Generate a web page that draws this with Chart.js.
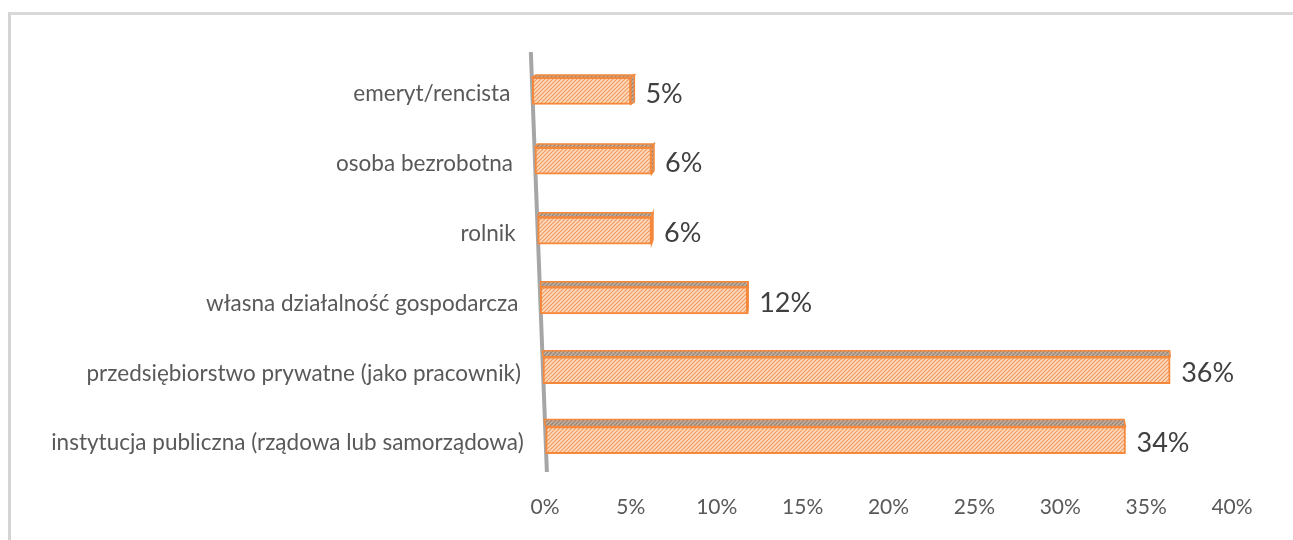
<!DOCTYPE html>
<html>
<head>
<meta charset="utf-8">
<script src="https://cdn.jsdelivr.net/npm/chart.js@4/dist/chart.umd.min.js"></script>
<style>
  html, body { margin: 0; padding: 0; background: #fff; }
  #wrap { position: relative; width: 1293px; height: 540px; overflow: hidden; }
  #frame { position: absolute; left: 8px; top: 12px; right: -5px; bottom: -5px;
           border-top: 3px solid #d9d9d9; border-left: 3px solid #d4d4d4; }
  #chart { position: absolute; left: 0; top: 0; }
</style>
</head>
<body>
<div id="wrap">
  <div id="frame"></div>
  <canvas id="chart" width="1293" height="540"></canvas>
</div>
<script>
// categories, top to bottom as in the picture
const categories = [
  'emeryt/rencista',
  'osoba bezrobotna',
  'rolnik',
  'własna działalność gospodarcza',
  'przedsiębiorstwo prywatne (jako pracownik)',
  'instytucja publiczna (rządowa lub samorządowa)'
];
// share of respondents, %
const shares = [5.0, 6.2, 6.2, 11.8, 36.4, 33.8];
const xTicksMax = 40;
const xTicksStep = 5;

const FONT = 'Lato';
const textGray = '#595959';

function hatch(bg, line) {
  const c = document.createElement('canvas');
  c.width = 4; c.height = 4;
  const g = c.getContext('2d');
  g.fillStyle = bg;
  g.fillRect(0, 0, 4, 4);
  g.strokeStyle = line;
  g.lineWidth = 1.2;
  g.beginPath();
  g.moveTo(-1, 5); g.lineTo(5, -1);
  g.moveTo(-1, 1); g.lineTo(1, -1);
  g.moveTo(3, 5); g.lineTo(5, 3);
  g.stroke();
  return g.createPattern(c, 'repeat');
}

const ctx = document.querySelector('#chart').getContext('2d');
const frontFill = hatch('#fcdcc3', '#f39a5c');
const topFill = hatch('#c4b0a0', '#94806f');
const orange = '#f5883b';

// slanted "3D" floor line that the bars start from
function slantX(area, y) {
  return area.left - 14 + (y - area.top) * 16 / (area.bottom - area.top);
}

const excel3d = {
  id: 'excel3d',
  beforeDatasetsDraw(chart) {
    const area = chart.chartArea;
    const c = chart.ctx;
    c.save();
    c.strokeStyle = '#a6a6a6';
    c.lineWidth = 4;
    c.beginPath();
    c.moveTo(slantX(area, area.top - 4), area.top - 4);
    c.lineTo(slantX(area, area.bottom - 3), area.bottom - 3);
    c.stroke();

    chart.getDatasetMeta(0).data.forEach(el => {
      el.base = slantX(area, el.y);
      const t = (el.y - area.top) / (area.bottom - area.top);
      const d = 2 + 5.5 * t;
      const dx = 4 - 6 * t;
      const top = el.y - el.height / 2;
      const bot = el.y + el.height / 2;
      c.fillStyle = topFill;
      c.strokeStyle = orange;
      c.lineWidth = 1.5;
      c.beginPath();
      c.moveTo(el.base, top);
      c.lineTo(el.base + dx, top - d);
      c.lineTo(el.x + dx, top - d);
      c.lineTo(el.x, top);
      c.closePath();
      c.fill();
      c.stroke();
      if (dx > 0) {
        c.beginPath();
        c.moveTo(el.x, top);
        c.lineTo(el.x + dx, top - d);
        c.lineTo(el.x + dx, bot - d);
        c.lineTo(el.x, bot);
        c.closePath();
        c.fill();
        c.stroke();
      }
    });
    c.restore();
  },
  afterDatasetsDraw(chart) {
    const area = chart.chartArea;
    const c = chart.ctx;
    c.save();
    c.textBaseline = 'middle';
    chart.getDatasetMeta(0).data.forEach((el, i) => {
      const t = (el.y - area.top) / (area.bottom - area.top);
      const dx = Math.max(0, 4 - 6 * t);
      // value label
      c.font = '27px ' + FONT;
      c.fillStyle = '#404040';
      c.textAlign = 'left';
      c.fillText(Math.round(shares[i]) + '%', el.x + dx + 11, el.y + 3);
      // category label, follows the slant
      c.font = '22.5px ' + FONT;
      c.fillStyle = textGray;
      c.textAlign = 'right';
      c.fillText(categories[i], slantX(area, el.y) - 22, el.y + 3);
    });
    c.restore();
  }
};

new Chart(ctx, {
  type: 'bar',
  data: {
    labels: categories,
    datasets: [{
      data: shares,
      backgroundColor: frontFill,
      borderColor: orange,
      borderWidth: 2,
      borderSkipped: false,
      barThickness: 27,
      clip: false
    }]
  },
  options: {
    indexAxis: 'y',
    responsive: false,
    animation: false,
    layout: { padding: { left: 545, right: 61, top: 56, bottom: 0 } },
    plugins: { legend: { display: false }, tooltip: { enabled: false } },
    scales: {
      y: { display: false },
      x: {
        min: 0,
        max: xTicksMax,
        grid: { display: false, drawTicks: false },
        border: { display: false },
        afterFit: s => { s.height = 65; },
        ticks: {
          stepSize: xTicksStep,
          padding: 20,
          color: textGray,
          font: { family: FONT, size: 21 },
          callback: v => v + '%'
        }
      }
    }
  },
  plugins: [excel3d]
});
</script>
</body>
</html>
